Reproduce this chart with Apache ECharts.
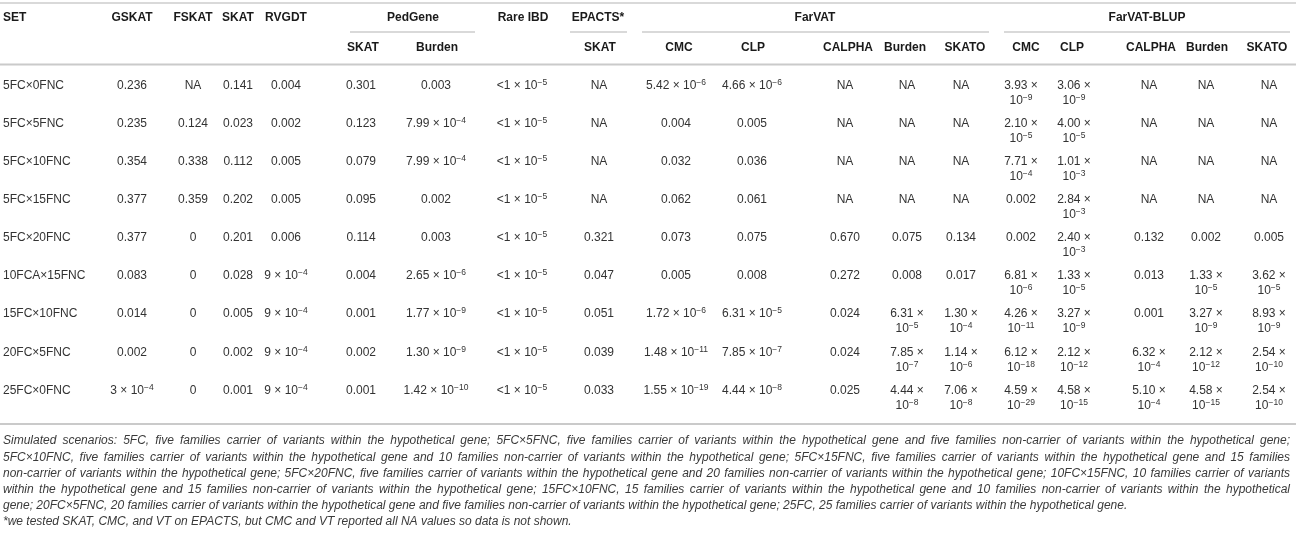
<!DOCTYPE html>
<html>
<head>
<meta charset="utf-8">
<script src="https://cdn.jsdelivr.net/npm/echarts@6/dist/echarts.min.js"></script>
<style>
  html, body { margin: 0; padding: 0; background: #fff; }
  #chart { width: 1296px; height: 537px; }
</style>
</head>
<body>
<div id="chart"></div>
<script>
// ── 表格数据（每列一个数组，^ 后面为上标指数） ──
const sets = ['5FC×0FNC', '5FC×5FNC', '5FC×10FNC', '5FC×15FNC', '5FC×20FNC', '10FCA×15FNC', '15FC×10FNC', '20FC×5FNC', '25FC×0FNC']
const gskat = ['0.236', '0.235', '0.354', '0.377', '0.377', '0.083', '0.014', '0.002', '3 × 10^-4']
const fskat = ['NA', '0.124', '0.338', '0.359', '0', '0', '0', '0', '0']
const skat = ['0.141', '0.023', '0.112', '0.202', '0.201', '0.028', '0.005', '0.002', '0.001']
const rvgdt = ['0.004', '0.002', '0.005', '0.005', '0.006', '9 × 10^-4', '9 × 10^-4', '9 × 10^-4', '9 × 10^-4']
const pedSkat = ['0.301', '0.123', '0.079', '0.095', '0.114', '0.004', '0.001', '0.002', '0.001']
const pedBurden = ['0.003', '7.99 × 10^-4', '7.99 × 10^-4', '0.002', '0.003', '2.65 × 10^-6', '1.77 × 10^-9', '1.30 × 10^-9', '1.42 × 10^-10']
const rareIbd = ['<1 × 10^-5', '<1 × 10^-5', '<1 × 10^-5', '<1 × 10^-5', '<1 × 10^-5', '<1 × 10^-5', '<1 × 10^-5', '<1 × 10^-5', '<1 × 10^-5']
const epactsSkat = ['NA', 'NA', 'NA', 'NA', '0.321', '0.047', '0.051', '0.039', '0.033']
const farCmc = ['5.42 × 10^-6', '0.004', '0.032', '0.062', '0.073', '0.005', '1.72 × 10^-6', '1.48 × 10^-11', '1.55 × 10^-19']
const farClp = ['4.66 × 10^-6', '0.005', '0.036', '0.061', '0.075', '0.008', '6.31 × 10^-5', '7.85 × 10^-7', '4.44 × 10^-8']
const farCalpha = ['NA', 'NA', 'NA', 'NA', '0.670', '0.272', '0.024', '0.024', '0.025']
const farBurden = ['NA', 'NA', 'NA', 'NA', '0.075', '0.008', '6.31 × 10^-5', '7.85 × 10^-7', '4.44 × 10^-8']
const farSkato = ['NA', 'NA', 'NA', 'NA', '0.134', '0.017', '1.30 × 10^-4', '1.14 × 10^-6', '7.06 × 10^-8']
const blupCmc = ['3.93 × 10^-9', '2.10 × 10^-5', '7.71 × 10^-4', '0.002', '0.002', '6.81 × 10^-6', '4.26 × 10^-11', '6.12 × 10^-18', '4.59 × 10^-29']
const blupClp = ['3.06 × 10^-9', '4.00 × 10^-5', '1.01 × 10^-3', '2.84 × 10^-3', '2.40 × 10^-3', '1.33 × 10^-5', '3.27 × 10^-9', '2.12 × 10^-12', '4.58 × 10^-15']
const blupCalpha = ['NA', 'NA', 'NA', 'NA', '0.132', '0.013', '0.001', '6.32 × 10^-4', '5.10 × 10^-4']
const blupBurden = ['NA', 'NA', 'NA', 'NA', '0.002', '1.33 × 10^-5', '3.27 × 10^-9', '2.12 × 10^-12', '4.58 × 10^-15']
const blupSkato = ['NA', 'NA', 'NA', 'NA', '0.005', '3.62 × 10^-5', '8.93 × 10^-9', '2.54 × 10^-10', '2.54 × 10^-10']

// 表头
const topHeaders = ['SET', 'GSKAT', 'FSKAT', 'SKAT', 'RVGDT', 'PedGene', 'Rare IBD', 'EPACTS*', 'FarVAT', 'FarVAT-BLUP']
const subHeaders = ['SKAT', 'Burden', 'SKAT', 'CMC', 'CLP', 'CALPHA', 'Burden', 'SKATO', 'CMC', 'CLP', 'CALPHA', 'Burden', 'SKATO']

// 表注
const noteLines = [
    'Simulated scenarios: 5FC, five families carrier of variants within the hypothetical gene; 5FC×5FNC, five families carrier of variants within the hypothetical gene and five families non-carrier of variants within the hypothetical gene;',
    '5FC×10FNC, five families carrier of variants within the hypothetical gene and 10 families non-carrier of variants within the hypothetical gene; 5FC×15FNC, five families carrier of variants within the hypothetical gene and 15 families',
    'non-carrier of variants within the hypothetical gene; 5FC×20FNC, five families carrier of variants within the hypothetical gene and 20 families non-carrier of variants within the hypothetical gene; 10FC×15FNC, 10 families carrier of variants',
    'within the hypothetical gene and 15 families non-carrier of variants within the hypothetical gene; 15FC×10FNC, 15 families carrier of variants within the hypothetical gene and 10 families non-carrier of variants within the hypothetical',
    'gene; 20FC×5FNC, 20 families carrier of variants within the hypothetical gene and five families non-carrier of variants within the hypothetical gene; 25FC, 25 families carrier of variants within the hypothetical gene.',
    '*we tested SKAT, CMC, and VT on EPACTS, but CMC and VT reported all NA values so data is not shown.'
]

// ── 版式（像素坐标轴上的位置，与数据分开） ──
const W = 1296
const H = 537
const FONT = '"Liberation Sans", Arial, sans-serif'
const columns = [
    { values: sets, x: 3, align: 'left' },
    { values: gskat, x: 132 },
    { values: fskat, x: 193 },
    { values: skat, x: 238 },
    { values: rvgdt, x: 286 },
    { values: pedSkat, x: 361 },
    { values: pedBurden, x: 436 },
    { values: rareIbd, x: 522 },
    { values: epactsSkat, x: 599 },
    { values: farCmc, x: 676 },
    { values: farClp, x: 752 },
    { values: farCalpha, x: 845 },
    { values: farBurden, x: 907, wrap: true },
    { values: farSkato, x: 961, wrap: true },
    { values: blupCmc, x: 1021, wrap: true },
    { values: blupClp, x: 1074, wrap: true },
    { values: blupCalpha, x: 1149, wrap: true },
    { values: blupBurden, x: 1206, wrap: true },
    { values: blupSkato, x: 1269, wrap: true },
]
const topHeaderX = [3, 132, 193, 238, 286, 413, 523, 598, 815, 1147]
const subHeaderX = [363, 437, 600, 679, 753, 848, 905, 965, 1026, 1072, 1151, 1207, 1267]
const topHeaderY = 18
const subHeaderY = 48
const rowY0 = 85.5
const rowStep = 38.1
const rowY = sets.map((_, i) => rowY0 + i * rowStep)
const rules = [
    { x1: 0, x2: W, y: 3, w: 1.2, c: '#b4b4b4' },
    { x1: 350, x2: 475, y: 32, w: 1.2, c: '#b4b4b4' },
    { x1: 570, x2: 627, y: 32, w: 1.2, c: '#b4b4b4' },
    { x1: 642, x2: 989, y: 32, w: 1.2, c: '#b4b4b4' },
    { x1: 1004, x2: 1290, y: 32, w: 1.2, c: '#b4b4b4' },
    { x1: 0, x2: W, y: 64.5, w: 2, c: '#cacaca' },
    { x1: 0, x2: W, y: 424, w: 2, c: '#cacaca' },
]
const noteY0 = 441
const noteStep = 16.2
const noteLeft = 3
const noteRight = 1290

// 把 "a × 10^-n" 转成富文本上标
const toRich = (s, wrap) => {
    let t = s.replace(/10\^-(\d+)/g, (m, d) => '10{sup|−' + d + '}')
    if (wrap) t = t.replace(' × ', ' ×\n')
    return t
}

const cellData = []
columns.forEach((col, c) => col.values.forEach((_, r) => cellData.push([c, r])))

const textStyle = (text, align, bold) => ({
    text,
    align,
    verticalAlign: 'middle',
    fill: bold ? '#1a1a1a' : '#333',
    font: (bold ? 'bold ' : '') + '12px ' + FONT,
    lineHeight: 15,
    rich: {
        sup: { fontSize: 8.5, fontFamily: FONT, fill: '#333', lineHeight: 6, verticalAlign: 'top' }
    }
})

// 表注两端对齐：逐词测量后排布
const measure = document.createElement('canvas').getContext('2d')
const NOTE_FONT = 'italic 12px ' + FONT
measure.font = NOTE_FONT
const noteElements = []
noteLines.forEach((line, i) => {
    const words = line.split(' ')
    const widths = words.map((w) => measure.measureText(w).width)
    const total = widths.reduce((a, b) => a + b, 0)
    const justify = i < 4
    const gap = justify ? (noteRight - noteLeft - total) / (words.length - 1) : measure.measureText(' ').width
    let x = noteLeft
    words.forEach((w, k) => {
        noteElements.push({
            type: 'text',
            x,
            y: noteY0 + i * noteStep,
            silent: true,
            style: { text: w, font: NOTE_FONT, fill: '#3a3a3a', verticalAlign: 'middle' }
        })
        x += widths[k] + gap
    })
})

const chart = echarts.init(document.getElementById('chart'), null, { renderer: 'canvas' })

chart.setOption({
    animation: false,
    grid: { left: 0, right: 0, top: 0, bottom: 0 },
    xAxis: { type: 'value', min: 0, max: W, show: false },
    yAxis: { type: 'value', min: 0, max: H, inverse: true, show: false },
    graphic: { elements: noteElements },
    series: [
        {
            // 表格横线
            type: 'custom',
            silent: true,
            clip: false,
            data: rules.map((_, i) => [i]),
            encode: { x: [], y: [] },
            renderItem: (params, api) => {
                const rule = rules[api.value(0)]
                const a = api.coord([rule.x1, rule.y])
                const b = api.coord([rule.x2, rule.y])
                return {
                    type: 'line',
                    shape: { x1: a[0], y1: a[1], x2: b[0], y2: b[1] },
                    style: { stroke: rule.c, lineWidth: rule.w }
                }
            }
        },
        {
            // 一级 / 二级表头
            type: 'custom',
            silent: true,
            clip: false,
            data: topHeaders.map((_, i) => [0, i]).concat(subHeaders.map((_, i) => [1, i])),
            encode: { x: [], y: [] },
            renderItem: (params, api) => {
                const level = api.value(0)
                const i = api.value(1)
                const label = level === 0 ? topHeaders[i] : subHeaders[i]
                const x = level === 0 ? topHeaderX[i] : subHeaderX[i]
                const p = api.coord([x, level === 0 ? topHeaderY : subHeaderY])
                const align = level === 0 && i === 0 ? 'left' : 'center'
                return { type: 'text', x: p[0], y: p[1], style: textStyle(label, align, true) }
            }
        },
        {
            // 数据单元格
            type: 'custom',
            silent: true,
            clip: false,
            data: cellData,
            encode: { x: [], y: [] },
            renderItem: (params, api) => {
                const col = columns[api.value(0)]
                const r = api.value(1)
                const raw = col.values[r]
                const text = toRich(raw, col.wrap)
                const lines = text.split('\n').length
                // 多行单元格首行与其它单元格对齐
                const p = api.coord([col.x, rowY[r] + (lines - 1) * 7.5])
                return { type: 'text', x: p[0], y: p[1], style: textStyle(text, col.align || 'center', false) }
            }
        }
    ]
})
</script>
</body>
</html>
